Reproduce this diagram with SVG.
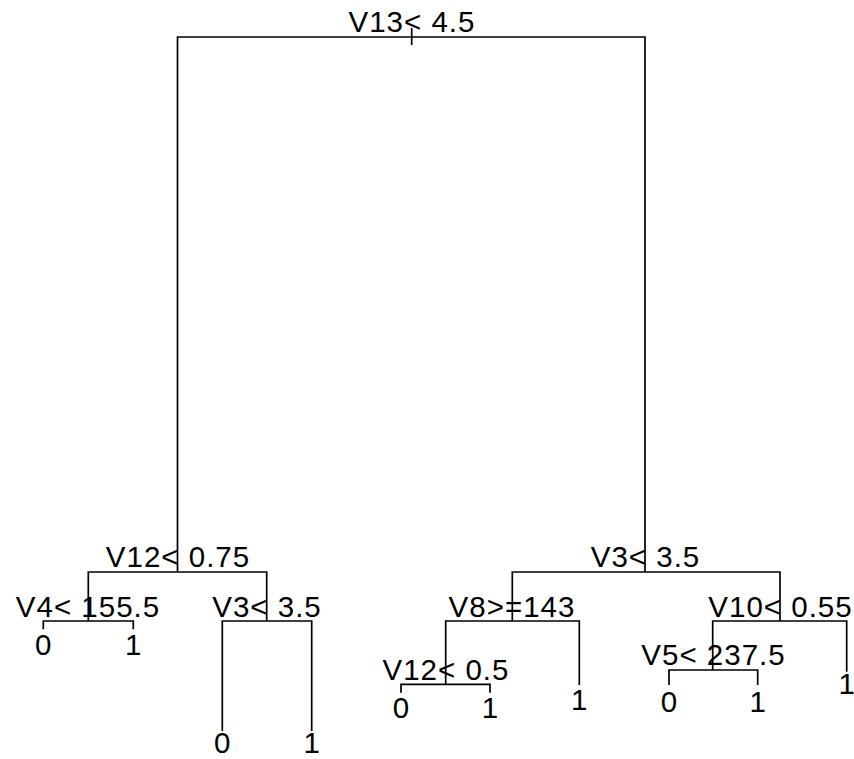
<svg xmlns="http://www.w3.org/2000/svg" width="854" height="759" viewBox="0 0 854 759">
<style>
.e{stroke:#000;stroke-width:1.7;fill:none;stroke-linecap:butt}
text{font-family:"Liberation Sans",Arial,sans-serif;font-size:29.5px;fill:#000;text-anchor:middle;letter-spacing:1px}
text.l{letter-spacing:0}
</style>
<rect width="854" height="759" fill="#fff"/>
<g id="connectors">
<path class="e" d="M411.7,28 V45"/>
<path class="e" d="M177.5,572 V37 H645 V572"/>
<path class="e" d="M88.3,621 V572 H266.7 V621"/>
<path class="e" d="M43.3,629.3 V621 H133.3 V629.3"/>
<path class="e" d="M222.3,731 V621 H311.7 V731"/>
<path class="e" d="M512.3,621 V572 H780 V621"/>
<path class="e" d="M445.7,684.3 V621 H579.3 V685"/>
<path class="e" d="M401,692.7 V684.3 H490 V692.7"/>
<path class="e" d="M712.7,670 V621 H846.7 V671.7"/>
<path class="e" d="M669,685 V670 H757.7 V685"/>
</g>
<g id="n_root"><text x="412" y="32">V13&lt; 4.5</text></g>
<g id="n_v12_075"><text x="178" y="567.3">V12&lt; 0.75</text></g>
<g id="n_v3_35r"><text x="645.5" y="567.3">V3&lt; 3.5</text></g>
<g id="n_v4"><text x="88" y="616.7">V4&lt; 155.5</text></g>
<g id="n_v3_35l"><text x="267" y="616.7">V3&lt; 3.5</text></g>
<g id="n_v8"><text x="512" y="616.7">V8&gt;=143</text></g>
<g id="n_v10"><text x="780.5" y="616.7">V10&lt; 0.55</text></g>
<g id="n_v12_05"><text x="446" y="680">V12&lt; 0.5</text></g>
<g id="n_v5"><text x="713.5" y="665">V5&lt; 237.5</text></g>
<g id="leaf1"><text class="l" x="43.3" y="655">0</text></g>
<g id="leaf2"><text class="l" x="133.3" y="655">1</text></g>
<g id="leaf3"><text class="l" x="222.3" y="752.5">0</text></g>
<g id="leaf4"><text class="l" x="311.7" y="752.5">1</text></g>
<g id="leaf5"><text class="l" x="401" y="718">0</text></g>
<g id="leaf6"><text class="l" x="490" y="718">1</text></g>
<g id="leaf7"><text class="l" x="579.3" y="710">1</text></g>
<g id="leaf8"><text class="l" x="669" y="711.5">0</text></g>
<g id="leaf9"><text class="l" x="757.7" y="711.5">1</text></g>
<g id="leaf10"><text class="l" x="846.7" y="694">1</text></g>
</svg>
